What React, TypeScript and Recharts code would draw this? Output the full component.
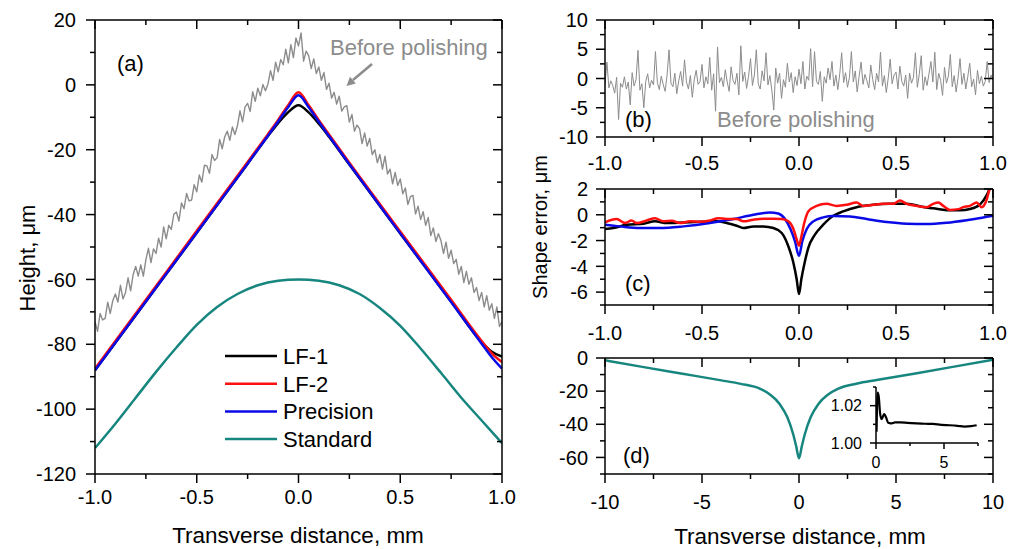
import { LineChart, Line, XAxis, YAxis, Legend } from 'recharts'

const W = 1019
const H = 549
const FONT = '"Liberation Sans", Arial, Helvetica, sans-serif'
const GRAY = '#8c8c8c'
const TEAL = '#17867f'
const RED = '#ff1010'
const BLUE = '#0a0ae6'

// ---- tick lists ----
const A_X_TICKS = [-1, -0.75, -0.5, -0.25, 0, 0.25, 0.5, 0.75, 1]
const A_X_MAJOR = [-1, -0.5, 0, 0.5, 1]
const A_Y_TICKS = [-120, -110, -100, -90, -80, -70, -60, -50, -40, -30, -20, -10, 0, 10, 20]
const A_Y_MAJOR = [-120, -100, -80, -60, -40, -20, 0, 20]
const B_Y_TICKS = [-10, -7.5, -5, -2.5, 0, 2.5, 5, 7.5, 10]
const B_Y_MAJOR = [-10, -5, 0, 5, 10]
const C_Y_TICKS = [-7, -6, -5, -4, -3, -2, -1, 0, 1, 2]
const C_Y_MAJOR = [-6, -4, -2, 0, 2]
const D_X_TICKS = [-10, -7.5, -5, -2.5, 0, 2.5, 5, 7.5, 10]
const D_X_MAJOR = [-10, -5, 0, 5, 10]
const D_Y_TICKS = [-70, -60, -50, -40, -30, -20, -10, 0]
const D_Y_MAJOR = [-60, -40, -20, 0]
const IN_X_TICKS = [0, 2.5, 5, 7.5]
const IN_X_MAJOR = [0, 5]
const IN_Y_TICKS = [1.0, 1.01, 1.02, 1.03]
const IN_Y_MAJOR = [1.0, 1.02]

// ---- panel (a) ----
const A_SMOOTH_X = [-1, -0.75, -0.5, -0.25, -0.15, -0.1, -0.05, 0, 0.05, 0.1, 0.15, 0.25, 0.5, 0.75, 0.9, 0.95, 1]
const A_LF1 = [-88, -66.8, -45.6, -24.3, -15.8, -11.8, -8.4, -6.3, -8.5, -12, -16, -24.6, -45.8, -66.8, -79.3, -82.3, -83.8]
const A_LF2 = [-87.5, -66.3, -45, -23.8, -15.2, -10.8, -6.2, -2.3, -6.3, -10.9, -15.3, -24, -45.2, -66.3, -79, -82.8, -85.5]
const A_PREC = [-88, -66.8, -45.6, -24.3, -15.7, -11.3, -6.8, -3.2, -6.9, -11.4, -15.8, -24.5, -45.8, -67, -79.8, -84, -87.5]
const A_STD_X = [-1, -0.9, -0.8, -0.7, -0.6, -0.5, -0.4, -0.3, -0.2, -0.1, 0, 0.1, 0.2, 0.3, 0.4, 0.5, 0.6, 0.7, 0.8, 0.9, 1]
const A_STD = [-112, -104.5, -96.5, -88.5, -81, -74, -68.5, -64.5, -61.8, -60.4, -60, -60.4, -61.8, -64.5, -68.8, -74.3, -81.3, -88.8, -96.5, -103.5, -110.5]
// measured profile before polishing, sampled every 0.0125 mm from -1 to 1
const A_BEFORE = [
  -73, -76, -70.5, -72.5, -72, -67, -70.5, -66.5, -64.5, -67, -61.8, -66, -64, -59.5, -63.5, -58.5,
  -56, -59, -55.5, -59, -54, -50.4, -54.8, -50.6, -52, -47.3, -50, -43.8, -47.5, -43.3, -44.6, -39.9,
  -39.2, -42, -36.4, -38.2, -33.5, -35.8, -35.5, -30.8, -33, -27.8, -30, -24.8, -25, -27.3, -21.5, -23.3,
  -22.5, -16.8, -19.7, -16, -14.3, -17.1, -13, -15.3, -12.6, -8, -11.4, -6.8, -5.7, -8.2, -2.1, -5.1,
  -1, -3.4, 0.1, -1.8, 0.3, 4.4, 1.4, 7, 4, 7.8, 6.2, 11, 6.8, 12.4, 8.4, 14.5,
  12, 16, 7.3, 10.4, 9, 5, 8, 3.5, 5.5, 1.4, 3.8, -1.4, 0.5, -4.1, -2.3, -5.9,
  -3.5, -8.1, -6.8, -6.4, -11.5, -9.1, -14.3, -12.4, -13.5, -18.1, -14.8, -18.9, -16.5, -21.5, -20, -24,
  -21.5, -26, -22, -27.5, -26, -30.5, -27, -31, -29, -33.6, -31.8, -36.9, -34.5, -34.1, -39.8, -37.4,
  -41.5, -39.1, -43.3, -40.9, -46.5, -44.1, -48.3, -45.9, -48, -52, -48.5, -53.5, -51, -55.1, -53.8, -58.4,
  -56, -61, -57.5, -61.5, -59.5, -64, -62.5, -66.5, -64, -68.5, -65, -69.5, -67.5, -72, -68.5, -74.5,
  -73,
]

// ---- panel (b): residual before polishing, sampled every 0.01 mm ----
const B_BEFORE = [
  -1, 2.8, -1.6, -0.4, -1.2, -2.5, 0.2, -7, -0.8, -1.5,
  0.3, -1.8, -0.6, -4.5, 1, -1.3, -0.2, 4.8, -2, -0.9,
  -5, -0.5, 0.8, -1.6, -0.3, -1.1, 4.6, -0.7, -1.9, 0.4,
  -1, -2.2, 0.6, 4.9, -0.8, -1.4, 0.9, -2.6, -0.4, 1.2,
  -1.3, 3.2, -0.6, -1.8, 0.5, -3.2, -0.2, 1.4, -1, -0.5,
  2.4, -1.6, 0.3, -0.9, 3.6, -2, 0.8, -5.6, 5.4, -0.7,
  0.2, -1.4, 1.5, -0.6, -2.2, 2, -0.3, -1, 0.9, -2.8,
  5.6, -0.5, 1.1, -1.7, 0.4, 3.4, -1.2, 0.6, 4.9, -0.9,
  -1.8, 1.3, -0.4, 4.4, -1.1, 0.5, -2, -5.4, 1.8, -0.8,
  0.9, -3.4, -0.2, -1.5, 2.6, -0.6, 1, -2.4, 0.3, -1.2,
  1.6, -0.9, 2.9, -1.8, 0.4, -0.3, 5.1, -1.4, 4.6, -0.5,
  -1, 1.2, -3.9, 0.3, -0.8, 1.8, -0.2, 2.9, -1.3, 0.6,
  -1.9, 0.8, 4.4, -0.7, 1, -1.5, 0.2, 4.6, -0.6, 1.3,
  -2.3, 0.4, 2.8, -1, 0.7, -0.4, -1.6, 2.3, -0.2, -1.9,
  0.9, -0.6, 4.5, -1.3, 0.5, -2.4, 0.1, 3.3, -0.9, 0.6,
  1.1, -1.8, 2.1, -0.5, -1.3, 0.6, -3.4, 0.9, -0.8, 0.2,
  4.4, -1.5, 0.7, 3.9, -2, 0.3, -1.2, 0.8, 2.9, -0.6,
  4.5, -1.9, 0.9, -0.3, -2.9, 1.9, -0.8, 0.4, 4.1, -1.4,
  0.5, -2.3, 0.2, 3.4, -1, 0.9, -1.8, 0.3, 2.6, -1.4,
  -0.1, -2.8, 1.4, -0.9, 0.4, -1.3, -0.5, 2.9, -0.7, 0.6,
  -0.3,
]

// ---- panel (c) ----
const C_LF1_X = [-1, -0.957, -0.888, -0.802, -0.742, -0.682, -0.596, -0.51, -0.424, -0.373, -0.321, -0.287, -0.235, -0.184, -0.132, -0.089, -0.055, -0.029, -0.012, 0, 0.012, 0.029, 0.048, 0.082, 0.125, 0.177, 0.228, 0.297, 0.383, 0.469, 0.555, 0.641, 0.692, 0.761, 0.83, 0.881, 0.933, 0.967, 0.988, 1]
const C_LF1 = [-1.1, -1.03, -0.77, -0.69, -0.51, -0.64, -0.59, -0.54, -0.51, -0.64, -0.85, -1.03, -0.9, -0.9, -1.03, -1.41, -2.44, -3.72, -5.0, -6.15, -5.0, -3.72, -2.56, -1.54, -0.77, -0.08, 0.26, 0.59, 0.77, 0.85, 0.85, 0.6, 0.5, 0.36, 0.35, 0.45, 0.8, 1.5, 2.2, 2.6]
const C_LF2_X = [-1, -0.94, -0.897, -0.863, -0.837, -0.785, -0.742, -0.7, -0.656, -0.613, -0.562, -0.51, -0.459, -0.416, -0.373, -0.321, -0.287, -0.235, -0.184, -0.132, -0.089, -0.055, -0.029, -0.012, 0, 0.012, 0.026, 0.048, 0.091, 0.142, 0.194, 0.245, 0.297, 0.331, 0.383, 0.434, 0.486, 0.52, 0.555, 0.606, 0.658, 0.692, 0.718, 0.744, 0.778, 0.821, 0.847, 0.881, 0.916, 0.941, 0.967, 0.984, 1]
const C_LF2 = [-0.59, -0.33, -0.64, -0.44, -0.64, -0.44, -0.26, -0.51, -0.46, -0.64, -0.51, -0.54, -0.44, -0.26, -0.33, -0.33, -0.51, -0.38, -0.31, -0.31, -0.33, -0.51, -1.1, -1.9, -2.4, -1.7, -0.7, 0.26, 0.69, 0.85, 0.69, 0.77, 0.95, 0.69, 0.77, 0.85, 0.85, 1.1, 0.85, 0.69, 0.59, 0.85, 0.95, 0.69, 0.38, 0.44, 0.59, 0.69, 0.95, 0.59, 1.15, 2.05, 2.3]
const C_PREC_X = [-1, -0.923, -0.82, -0.717, -0.596, -0.459, -0.339, -0.235, -0.15, -0.107, -0.072, -0.043, -0.021, 0, 0.017, 0.04, 0.074, 0.125, 0.177, 0.263, 0.349, 0.452, 0.555, 0.658, 0.761, 0.864, 0.984, 1]
const C_PREC = [-0.77, -0.9, -1.03, -1.03, -0.9, -0.64, -0.33, 0, 0.18, 0.1, -0.33, -1.15, -2.05, -3.2, -2.05, -1.1, -0.51, -0.2, -0.1, -0.13, -0.33, -0.56, -0.69, -0.72, -0.62, -0.42, -0.12, -0.08]

// ---- panel (d) and inset ----
const D_X = [-10, -8, -6, -4, -3, -2, -1.5, -1, -0.6, -0.3, -0.15, 0, 0.15, 0.3, 0.6, 1, 1.5, 2, 3, 4, 6, 8, 10]
const D_Y = [-1.4, -5.5, -9.5, -13.5, -15.6, -18.6, -22, -27.7, -35.8, -46, -53, -60.5, -53, -46, -35.8, -27.7, -22, -18.6, -15.4, -13.3, -9.3, -5.2, -1.0]
const IN_X = [0.04, 0.12, 0.2, 0.3, 0.4, 0.5, 0.6, 0.75, 0.9, 1.1, 1.4, 1.8, 2.3, 3, 3.6, 4.2, 4.8, 5.4, 6, 6.5, 7, 7.4]
const IN_Y = [1.006, 1.027, 1.025, 1.016, 1.0128, 1.014, 1.0155, 1.0135, 1.0108, 1.0105, 1.011, 1.011, 1.0108, 1.0105, 1.0103, 1.0102, 1.0097, 1.0095, 1.0092, 1.0088, 1.009, 1.0095]

type Pt = { x: number; y: number }
const pts = (xs: number[], ys: number[]): Pt[] => xs.map((x, i) => ({ x, y: ys[i] }))
const grid = (ys: number[], step: number): Pt[] => ys.map((y, i) => ({ x: -1 + i * step, y }))

const AXIS = { stroke: '#000', strokeWidth: 1.5 }

type Side = 'bottom' | 'top' | 'left' | 'right'
interface TickCfg {
  side: Side
  major: number[]
  fmt?: (v: number) => string
  gap?: number
  fontSize?: number
  majorLen?: number
  minorLen?: number
}

const isIn = (arr: number[], v: number) => arr.some((m) => Math.abs(m - v) < 1e-6)

// tick marks and labels are drawn by hand at the point the axis hands over
function frameTick(cfg: TickCfg) {
  const { side, major, fmt, gap = 0, fontSize = 20 } = cfg
  const majorLen = cfg.majorLen ?? 9
  const minorLen = cfg.minorLen ?? 5
  return (props: any) => {
    const { x, y, payload } = props
    const v = Number(payload.value)
    const big = isIn(major, v)
    const len = big ? majorLen : minorLen
    const vertical = side === 'bottom' || side === 'top'
    const label = big && fmt ? fmt(v) : null
    return (
      <g>
        {vertical
          ? <line x1={x} y1={y} x2={x} y2={y + len} stroke="#000" strokeWidth={1.5} />
          : <line x1={x - len} y1={y} x2={x} y2={y} stroke="#000" strokeWidth={1.5} />}
        {label && side === 'bottom' && (
          <text x={x} y={y + gap} textAnchor="middle" fontSize={fontSize} fontFamily={FONT} fill="#000">{label}</text>
        )}
        {label && side === 'left' && (
          <text x={x - gap} y={y} dy="0.36em" textAnchor="end" fontSize={fontSize} fontFamily={FONT} fill="#000">{label}</text>
        )}
      </g>
    )
  }
}

interface Box { l: number; t: number; r: number; b: number }
interface PanelProps {
  box: Box
  xDomain: [number, number]
  yDomain: [number, number]
  xTicks: number[]
  xMajor: number[]
  yTicks: number[]
  yMajor: number[]
  xFmt: (v: number) => string
  yFmt: (v: number) => string
  xGap: number
  yGap: number
  children?: React.ReactNode
}

// axes are 1px thick so that recharts still draws them
function Panel({ box, xDomain, yDomain, xTicks, xMajor, yTicks, yMajor, xFmt, yFmt, xGap, yGap, children }: PanelProps) {
  const margin = { left: box.l - 1, top: box.t - 1, right: W - box.r - 1, bottom: H - box.b - 1 }
  return (
    <div style={{ position: 'absolute', left: 0, top: 0 }}>
      <LineChart width={W} height={H} margin={margin}>
        <XAxis xAxisId="b" type="number" dataKey="x" domain={xDomain} allowDataOverflow ticks={xTicks} interval={0}
          height={1} tickSize={0} tickMargin={0} tickLine={false} axisLine={AXIS}
          tick={frameTick({ side: 'bottom', major: xMajor, fmt: xFmt, gap: xGap })} />
        <XAxis xAxisId="t" orientation="top" type="number" dataKey="x" domain={xDomain} allowDataOverflow ticks={xTicks} interval={0}
          height={1} tickSize={0} tickMargin={0} tickLine={false} axisLine={AXIS}
          tick={frameTick({ side: 'top', major: xMajor })} />
        <YAxis yAxisId="l" type="number" dataKey="y" domain={yDomain} allowDataOverflow ticks={yTicks} interval={0}
          width={1} tickSize={0} tickMargin={0} tickLine={false} axisLine={AXIS}
          tick={frameTick({ side: 'left', major: yMajor, fmt: yFmt, gap: yGap })} />
        <YAxis yAxisId="r" orientation="right" type="number" dataKey="y" domain={yDomain} allowDataOverflow ticks={yTicks} interval={0}
          width={1} tickSize={0} tickMargin={0} tickLine={false} axisLine={AXIS}
          tick={frameTick({ side: 'right', major: yMajor })} />
        {children}
      </LineChart>
    </div>
  )
}

const LEGEND_ORDER = ['LF-1', 'LF-2', 'Precision', 'Standard']

function LegendBox({ payload }: any) {
  const items = LEGEND_ORDER.map((n) => (payload ?? []).find((p: any) => p.value === n)).filter(Boolean)
  return (
    <svg width={200} height={112}>
      {items.map((it: any, i: number) => {
        const cy = 14 + i * 27.7
        return (
          <g key={it.value}>
            <line x1={0} x2={52} y1={cy} y2={cy} stroke={it.color} strokeWidth={2.5} />
            <text x={58} y={cy + 8} fontSize={22} fontFamily={FONT} fill="#000">{it.value}</text>
          </g>
        )
      })}
    </svg>
  )
}

const fmt1 = (v: number) => v.toFixed(1)
const fmt0 = (v: number) => String(Math.round(v))

const lineCommon = {
  xAxisId: 'b',
  yAxisId: 'l',
  dataKey: 'y',
  dot: false,
  activeDot: false,
  isAnimationActive: false,
  strokeLinejoin: 'round' as const,
}

function PanelA() {
  return (
    <Panel box={{ l: 95, t: 20, r: 502, b: 474 }} xDomain={[-1, 1]} yDomain={[-120, 20]}
      xTicks={A_X_TICKS} xMajor={A_X_MAJOR} yTicks={A_Y_TICKS} yMajor={A_Y_MAJOR}
      xFmt={fmt1} yFmt={fmt0} xGap={30} yGap={19}>
      <Line {...lineCommon} data={grid(A_BEFORE, 0.0125)} type="linear" stroke={GRAY} strokeWidth={1.4} legendType="none" name="Before polishing" />
      <Line {...lineCommon} data={pts(A_STD_X, A_STD)} type="monotone" stroke={TEAL} strokeWidth={2.5} name="Standard" />
      <Line {...lineCommon} data={pts(A_SMOOTH_X, A_LF1)} type="monotone" stroke="#000" strokeWidth={2.5} name="LF-1" />
      <Line {...lineCommon} data={pts(A_SMOOTH_X, A_LF2)} type="monotone" stroke={RED} strokeWidth={2.5} name="LF-2" />
      <Line {...lineCommon} data={pts(A_SMOOTH_X, A_PREC)} type="monotone" stroke={BLUE} strokeWidth={2.5} name="Precision" />
      <Legend layout="vertical" align="center" verticalAlign="middle" content={LegendBox}
        wrapperStyle={{ left: 225, top: 342, width: 200, height: 112 }} />
    </Panel>
  )
}

function PanelB() {
  return (
    <Panel box={{ l: 605, t: 20, r: 993, b: 137 }} xDomain={[-1, 1]} yDomain={[-10, 10]}
      xTicks={A_X_TICKS} xMajor={A_X_MAJOR} yTicks={B_Y_TICKS} yMajor={B_Y_MAJOR}
      xFmt={fmt1} yFmt={fmt0} xGap={33} yGap={17}>
      <Line {...lineCommon} data={grid(B_BEFORE, 0.01)} type="linear" stroke={GRAY} strokeWidth={1} name="Before polishing" />
    </Panel>
  )
}

function PanelC() {
  return (
    <Panel box={{ l: 605, t: 189, r: 993, b: 305 }} xDomain={[-1, 1]} yDomain={[-7, 2]}
      xTicks={A_X_TICKS} xMajor={A_X_MAJOR} yTicks={C_Y_TICKS} yMajor={C_Y_MAJOR}
      xFmt={fmt1} yFmt={fmt0} xGap={35} yGap={17}>
      <Line {...lineCommon} data={pts(C_LF1_X, C_LF1)} type="monotone" stroke="#000" strokeWidth={2.5} name="LF-1" />
      <Line {...lineCommon} data={pts(C_PREC_X, C_PREC)} type="monotone" stroke={BLUE} strokeWidth={2.5} name="Precision" />
      <Line {...lineCommon} data={pts(C_LF2_X, C_LF2)} type="monotone" stroke={RED} strokeWidth={2.5} name="LF-2" />
    </Panel>
  )
}

function PanelD() {
  return (
    <Panel box={{ l: 605, t: 358, r: 993, b: 474 }} xDomain={[-10, 10]} yDomain={[-70, 0]}
      xTicks={D_X_TICKS} xMajor={D_X_MAJOR} yTicks={D_Y_TICKS} yMajor={D_Y_MAJOR}
      xFmt={fmt0} yFmt={fmt0} xGap={35} yGap={17}>
      <Line {...lineCommon} data={pts(D_X, D_Y)} type="monotone" stroke={TEAL} strokeWidth={2.5} name="Standard" />
    </Panel>
  )
}

function Inset() {
  const box = { l: 876, t: 387, r: 978, b: 443 }
  const margin = { left: box.l - 1, top: box.t, right: W - box.r, bottom: H - box.b - 1 }
  return (
    <div style={{ position: 'absolute', left: 0, top: 0 }}>
      <LineChart width={W} height={H} margin={margin}>
        <XAxis xAxisId="b" type="number" dataKey="x" domain={[0, 7.5]} allowDataOverflow ticks={IN_X_TICKS} interval={0}
          height={1} tickSize={0} tickMargin={0} tickLine={false} axisLine={AXIS}
          tick={frameTick({ side: 'bottom', major: IN_X_MAJOR, fmt: fmt0, gap: 25, fontSize: 16, majorLen: 6, minorLen: 3 })} />
        <YAxis yAxisId="l" type="number" dataKey="y" domain={[1.0, 1.03]} allowDataOverflow ticks={IN_Y_TICKS} interval={0}
          width={1} tickSize={0} tickMargin={0} tickLine={false} axisLine={AXIS}
          tick={frameTick({ side: 'left', major: IN_Y_MAJOR, fmt: (v) => v.toFixed(2), gap: 14, fontSize: 16, majorLen: 6, minorLen: 3 })} />
        <Line {...lineCommon} data={pts(IN_X, IN_Y)} type="monotone" stroke="#000" strokeWidth={2.2} name="ratio" />
      </LineChart>
    </div>
  )
}

function Annotations() {
  const t = { fontFamily: FONT, fill: '#000' }
  return (
    <svg width={W} height={H} style={{ position: 'absolute', left: 0, top: 0, pointerEvents: 'none' }}>
      <text x={117} y={71} fontSize={22} {...t}>(a)</text>
      <text x={330} y={55} fontSize={22} {...t} fill={GRAY}>Before polishing</text>
      <line x1={372} y1={64} x2={353} y2={80} stroke={GRAY} strokeWidth={2.5} />
      <polygon points="346.5,86 355.8,83.6 350,76.8" fill={GRAY} />
      <text transform="translate(27,258) rotate(-90)" textAnchor="middle" dy="0.36em" fontSize={22} {...t}>Height, μm</text>
      <text x={298} y={543} textAnchor="middle" fontSize={22.5} {...t}>Transverse distance, mm</text>

      <text x={625} y={127} fontSize={22} {...t}>(b)</text>
      <text x={717} y={127} fontSize={22} {...t} fill={GRAY}>Before polishing</text>
      <text x={625} y={291} fontSize={22} {...t}>(c)</text>
      <text x={623} y={463} fontSize={22} {...t}>(d)</text>
      <text transform="translate(540,227) rotate(-90)" textAnchor="middle" dy="0.36em" fontSize={20} {...t}>Shape error, μm</text>
      <text x={800} y={544} textAnchor="middle" fontSize={22.5} {...t}>Transverse distance, mm</text>
    </svg>
  )
}

export default function App() {
  return (
    <div style={{ position: 'fixed', left: 0, top: 0, width: W, height: H, background: '#fff', fontFamily: FONT, overflow: 'hidden' }}>
      <PanelA />
      <PanelB />
      <PanelC />
      <PanelD />
      <Inset />
      <Annotations />
    </div>
  )
}
